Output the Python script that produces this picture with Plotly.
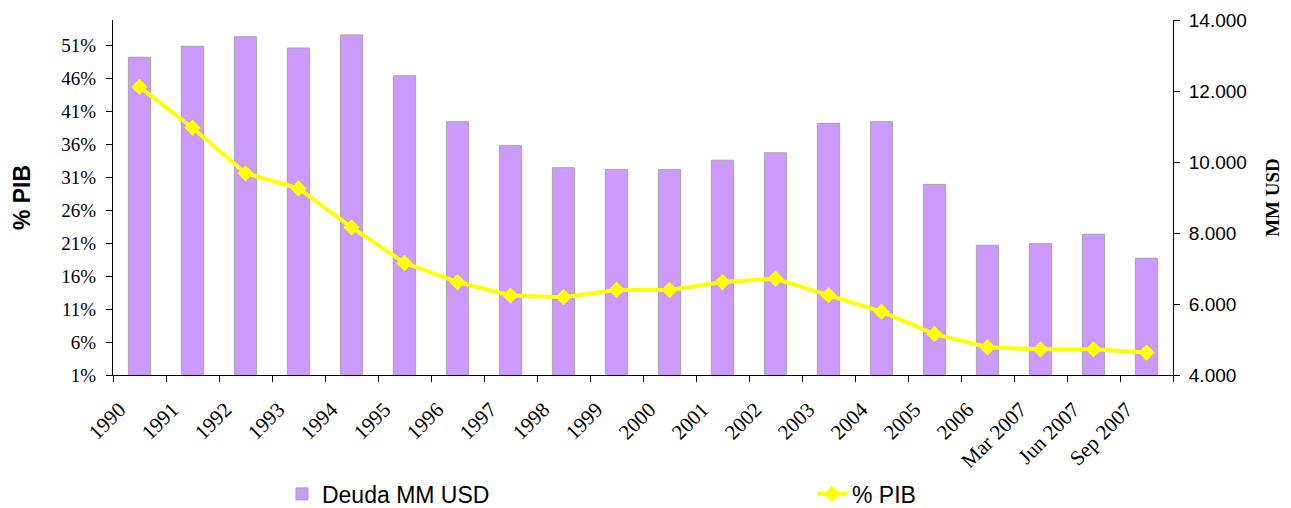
import plotly.graph_objects as go

categories = ["1990", "1991", "1992", "1993", "1994", "1995", "1996", "1997", "1998",
              "1999", "2000", "2001", "2002", "2003", "2004", "2005", "2006",
              "Mar 2007", "Jun 2007", "Sep 2007"]
deuda_mm_usd = [12950, 13260, 13530, 13210, 13580, 12430, 11135, 10460, 9840, 9785,
                9785, 10050, 10260, 11090, 11135, 9370, 7655, 7700, 7965, 7290]
pct_pib = [44.7, 38.5, 31.6, 29.3, 23.4, 18.0, 15.1, 13.05, 12.8, 13.9,
           13.9, 15.1, 15.6, 13.1, 10.6, 7.2, 5.2, 4.9, 4.9, 4.4]

SERIF = "Liberation Serif, Times New Roman, serif"
SANS = "Liberation Sans, Arial, sans-serif"

fig = go.Figure()
fig.add_trace(go.Bar(
    x=categories, y=deuda_mm_usd, name="Deuda MM USD", yaxis="y", legend="legend",
    marker=dict(color="#CC99FF", line=dict(color="#A6A6A6", width=1)),
))
fig.add_trace(go.Scatter(
    x=categories, y=pct_pib, name="% PIB", yaxis="y2", mode="lines+markers",
    legend="legend2",
    line=dict(color="#FFFF00", width=4),
    marker=dict(symbol="diamond", size=12.5, color="#FFFF00"),
))

legend_common = dict(orientation="h", xanchor="left", yanchor="middle",
                     font=dict(family=SANS, size=23, color="black"),
                     bgcolor="rgba(0,0,0,0)")

fig.update_layout(
    width=1291, height=508,
    margin=dict(l=113, r=118, t=20, b=133, autoexpand=False),
    paper_bgcolor="white", plot_bgcolor="white",
    separators=",.",
    bargap=0.58,
    showlegend=True,
    legend=dict(x=0.1594, y=-0.335, **legend_common),
    legend2=dict(x=0.6594, y=-0.335, **legend_common),
    xaxis=dict(type="category", range=[-0.5, 19.5], tickson="boundaries",
               ticks="outside", ticklen=6, tickcolor="black",
               showline=True, linecolor="black", linewidth=1,
               showgrid=False, tickangle=-45, automargin=False,
               ticklabelshift=-20, ticklabelstandoff=13,
               tickfont=dict(family=SERIF, size=21, color="black")),
    yaxis=dict(side="right", range=[4000, 14000], tick0=4000, dtick=2000,
               tickformat=",.0f", ticks="outside", ticklen=6, tickcolor="black",
               showline=True, linecolor="black", linewidth=1, showgrid=False,
               zeroline=False, automargin=False, ticklabelstandoff=5,
               tickfont=dict(family=SANS, size=19, color="black"),
               title=dict(text="<b>MM USD</b>", standoff=19,
                          font=dict(family=SERIF, size=19, color="black"))),
    yaxis2=dict(side="left", overlaying="y", range=[1, 54.85], tick0=1, dtick=5,
                ticksuffix="%", ticks="outside", ticklen=6, tickcolor="black",
                showline=True, linecolor="black", linewidth=1, showgrid=False,
                zeroline=False, automargin=False, ticklabelstandoff=6,
                tickfont=dict(family=SERIF, size=19, color="black"),
                title=dict(text="<b>% PIB</b>", standoff=24,
                           font=dict(family=SANS, size=23, color="black"))),
)

fig.write_html("out.html", config={"displayModeBar": False},
               post_script="document.body.style.margin='0';document.body.style.padding='0';")
